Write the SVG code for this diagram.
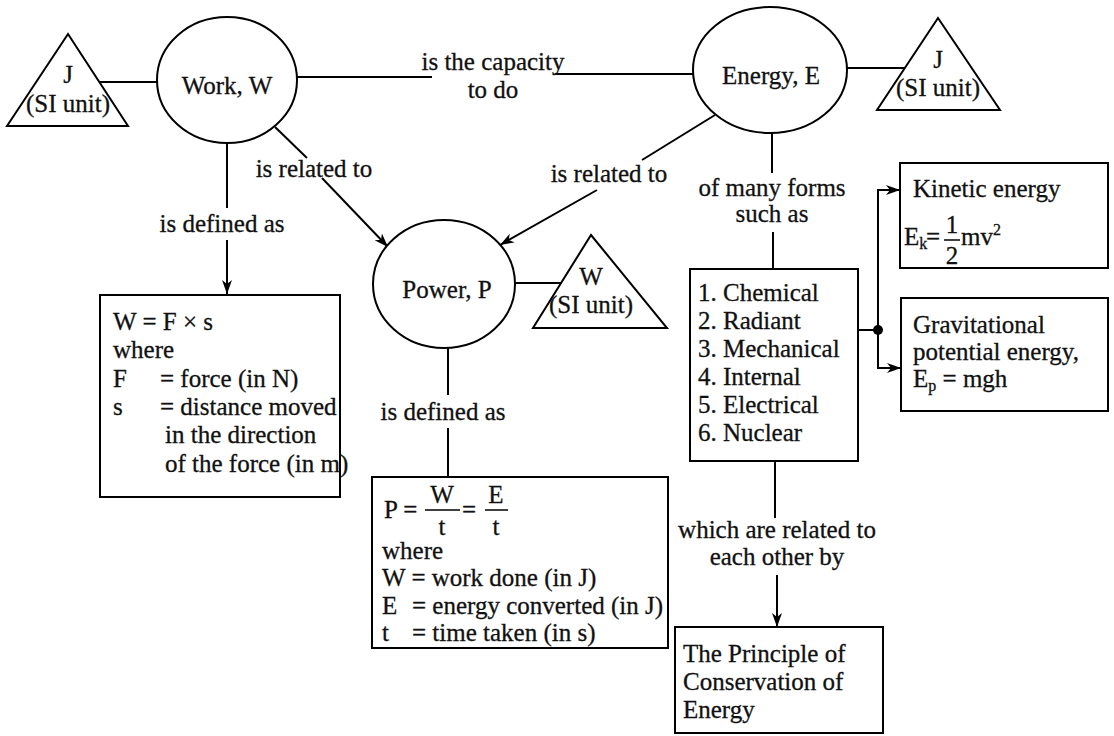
<svg xmlns="http://www.w3.org/2000/svg" width="1114" height="736" viewBox="0 0 1114 736">
  <defs>
    <marker id="arrow" markerUnits="userSpaceOnUse" markerWidth="14" markerHeight="10" refX="14" refY="5" orient="auto">
      <path d="M0,0 L14,5 L0,10 L4,5 Z" fill="#000"/>
    </marker>
    <style>
      .shape { fill: #fff; stroke: #000; stroke-width: 2; }
      .edge { fill: none; stroke: #000; stroke-width: 2; }
      .bar { stroke: #000; stroke-width: 1.5; }
      .arr { marker-end: url(#arrow); }
      text { font-family: "Liberation Serif", "Times New Roman", serif; font-size: 25px; fill: #111; stroke: #111; stroke-width: 0.3; }
      .c { text-anchor: middle; }
      .sm { font-size: 16px; }
    </style>
  </defs>
  <rect width="1114" height="736" fill="#fff"/>

  <!-- connectors -->
  <g id="connectors">
    <line class="edge" x1="99" y1="82" x2="157" y2="82"/>
    <line class="edge" x1="296" y1="77" x2="432" y2="77"/>
    <line class="edge" x1="555" y1="74" x2="693" y2="74"/>
    <line class="edge" x1="847" y1="68" x2="905" y2="68"/>
    <line class="edge" x1="227" y1="143" x2="227" y2="208"/>
    <line class="edge arr" x1="227" y1="240" x2="227" y2="294"/>
    <line class="edge" x1="275" y1="127" x2="307" y2="158"/>
    <line class="edge arr" x1="322" y1="178" x2="388" y2="247"/>
    <line class="edge" x1="715" y1="115" x2="642" y2="160"/>
    <line class="edge arr" x1="597" y1="190" x2="500" y2="245"/>
    <line class="edge" x1="515" y1="283" x2="561" y2="283"/>
    <line class="edge" x1="448" y1="348" x2="448" y2="395"/>
    <line class="edge" x1="448" y1="428" x2="448" y2="477"/>
    <line class="edge" x1="772" y1="133" x2="772" y2="173"/>
    <line class="edge" x1="773" y1="232" x2="773" y2="269"/>
    <line class="edge" x1="775" y1="461" x2="775" y2="518"/>
    <line class="edge arr" x1="777" y1="575" x2="777" y2="627"/>
    <line class="edge" x1="858" y1="330" x2="878" y2="330"/>
    <polyline class="edge arr" points="878,330 878,190 900,190"/>
    <polyline class="edge arr" points="878,330 878,368 901,368"/>
    <circle cx="878" cy="330" r="5" fill="#000"/>
  </g>

  <!-- edge labels -->
  <g id="labels">
    <text class="c" x="493" y="70">is the capacity</text>
    <text class="c" x="493" y="98">to do</text>
    <text class="c" x="222" y="232">is defined as</text>
    <text class="c" x="314" y="177">is related to</text>
    <text class="c" x="609" y="182">is related to</text>
    <text class="c" x="443" y="420">is defined as</text>
    <text class="c" x="772" y="196">of many forms</text>
    <text class="c" x="772" y="222">such as</text>
    <text class="c" x="777" y="538">which are related to</text>
    <text class="c" x="777" y="565">each other by</text>
  </g>

  <g id="work">
    <ellipse class="shape" cx="227" cy="80" rx="70" ry="63"/>
    <text class="c" x="227" y="94">Work, W</text>
  </g>
  <g id="work-unit">
    <polygon class="shape" points="68,34 128,126 7,126"/>
    <text class="c" x="68" y="83">J</text>
    <text class="c" x="68" y="112">(SI unit)</text>
  </g>

  <g id="energy">
    <ellipse class="shape" cx="770" cy="70" rx="77" ry="63"/>
    <text class="c" x="771" y="84">Energy, E</text>
  </g>
  <g id="energy-unit">
    <polygon class="shape" points="938,18 1000,110 877,110"/>
    <text class="c" x="938" y="68">J</text>
    <text class="c" x="938" y="96">(SI unit)</text>
  </g>

  <g id="power">
    <ellipse class="shape" cx="444" cy="284" rx="71" ry="64"/>
    <text class="c" x="447" y="298">Power, P</text>
  </g>
  <g id="power-unit">
    <polygon class="shape" points="591,235 667,328 533,328"/>
    <text class="c" x="591" y="285">W</text>
    <text class="c" x="591" y="313">(SI unit)</text>
  </g>

  <g id="work-definition">
    <rect class="shape" x="100" y="295" width="240" height="202"/>
    <text x="113" y="330">W = F × s</text>
    <text x="113" y="358">where</text>
    <text x="113" y="387">F</text>
    <text x="160" y="387">= force (in N)</text>
    <text x="113" y="415">s</text>
    <text x="160" y="415">= distance moved</text>
    <text x="165" y="443">in the direction</text>
    <text x="165" y="472">of the force (in m)</text>
  </g>

  <g id="power-definition">
    <rect class="shape" x="372" y="477" width="296" height="171"/>
    <text x="384" y="518">P =</text>
    <text class="c" x="442" y="503">W</text>
    <line class="bar" x1="425" y1="510" x2="460" y2="510"/>
    <text class="c" x="442" y="535">t</text>
    <text x="462" y="518">=</text>
    <text class="c" x="496" y="503">E</text>
    <line class="bar" x1="485" y1="510" x2="508" y2="510"/>
    <text class="c" x="496" y="535">t</text>
    <text x="382" y="559">where</text>
    <text x="382" y="586">W = work done (in J)</text>
    <text x="382" y="614">E</text>
    <text x="412" y="614">= energy converted (in J)</text>
    <text x="382" y="641">t</text>
    <text x="412" y="641">= time taken (in s)</text>
  </g>

  <g id="forms">
    <rect class="shape" x="690" y="269" width="168" height="192"/>
    <text x="698" y="301">1. Chemical</text>
    <text x="698" y="329">2. Radiant</text>
    <text x="698" y="357">3. Mechanical</text>
    <text x="698" y="385">4. Internal</text>
    <text x="698" y="413">5. Electrical</text>
    <text x="698" y="441">6. Nuclear</text>
  </g>

  <g id="kinetic">
    <rect class="shape" x="900" y="163" width="208" height="105"/>
    <text x="913" y="197">Kinetic energy</text>
    <text x="904" y="245">E<tspan class="sm" dy="4">k</tspan></text>
    <text x="926" y="245">=</text>
    <text class="c" x="952" y="233">1</text>
    <line class="bar" x1="944" y1="240" x2="960" y2="240"/>
    <text class="c" x="952" y="264">2</text>
    <text x="961" y="245">mv<tspan class="sm" dy="-10">2</tspan></text>
  </g>

  <g id="gravitational">
    <rect class="shape" x="901" y="298" width="207" height="113"/>
    <text x="913" y="333">Gravitational</text>
    <text x="913" y="360">potential energy,</text>
    <text x="913" y="387">E<tspan class="sm" dy="4">p</tspan><tspan dy="-4"> = mgh</tspan></text>
  </g>

  <g id="conservation">
    <rect class="shape" x="675" y="627" width="208" height="106"/>
    <text x="683" y="662">The Principle of</text>
    <text x="683" y="690">Conservation of</text>
    <text x="683" y="718">Energy</text>
  </g>
</svg>
